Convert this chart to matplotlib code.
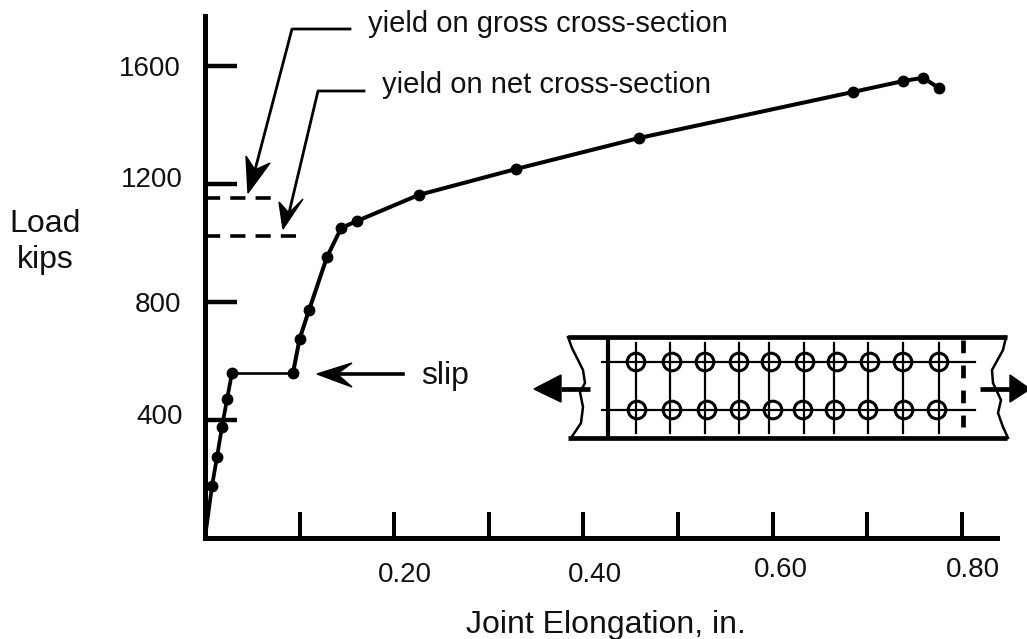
import matplotlib
matplotlib.use('Agg')
import matplotlib.pyplot as plt
from matplotlib.patches import Circle, Polygon

plt.rcParams['font.family'] = ['Liberation Sans', 'DejaVu Sans']

# load curve
elongation = [0, 0.0074, 0.0127, 0.018, 0.0233, 0.0285, 0.093, 0.100, 0.110, 0.129, 0.144, 0.161,
              0.226, 0.329, 0.459, 0.685, 0.738, 0.759, 0.776]
load = [0, 176, 275, 377, 471, 559, 559, 675, 773, 953, 1051, 1075,
        1163, 1251, 1356, 1512, 1549, 1560, 1525]
slip_start = 5
slip_end = 6

x_ticks = [0.1, 0.2, 0.3, 0.4, 0.5, 0.6, 0.7, 0.8]
y_ticks = [400, 800, 1200, 1600]

yield_gross = 1153
yield_net = 1024
yield_gross_end = 0.07
yield_net_end = 0.0962

# tick labels sit off their ticks in the original, so they go in by hand
x_labels = ['0.20', '0.40', '0.60', '0.80']
x_label_pos = [(405, 582), (595, 582), (781, 577), (973, 577)]
y_labels = ['1600', '1200', '800', '400']
y_label_pos = [(181, 76), (183, 187), (181, 312), (183, 424)]

# joint sketch, in picture pixels
hole_x_top = [636, 672, 705, 739, 771, 805, 837, 870, 903, 939]
hole_x_bottom = [637, 672, 707, 740, 773, 803, 835, 868, 904, 937]
bolt_x = [636, 670, 705, 739, 769, 804, 834, 868, 903, 939]
row_y = [362, 410]
left_edge_x = [568, 572, 583, 585, 580, 583, 581, 571]
left_edge_y = [337, 348, 370, 383, 392, 407, 423, 438]
right_edge_x = [1006, 1003, 992, 993, 1001, 998, 1003, 1008]
right_edge_y = [337, 350, 370, 383, 400, 413, 427, 438]

fig = plt.figure(figsize=(10.27, 6.39), dpi=100)

ax = fig.add_axes([205 / 1027, (639 - 538) / 639, (997 - 205) / 1027, (538 - 16) / 639])
ax.set_xlim(0, 792 / 946)
ax.set_ylim(0, 522 / 0.295)
ax.spines['top'].set_visible(False)
ax.spines['right'].set_visible(False)
ax.spines['left'].set_linewidth(3.6)
ax.spines['bottom'].set_linewidth(3.6)
ax.set_xticks(x_ticks)
ax.set_yticks(y_ticks)
ax.tick_params(axis='x', direction='in', length=19, width=2.9, labelbottom=False)
ax.tick_params(axis='y', direction='in', length=23, width=3.2, labelleft=False)

ax.plot(elongation[:slip_start + 1], load[:slip_start + 1], color='black', lw=2.7, clip_on=False)
ax.plot(elongation[slip_start:slip_end + 1], load[slip_start:slip_end + 1], color='black', lw=1.9, clip_on=False)
ax.plot(elongation[slip_end:], load[slip_end:], color='black', lw=2.9, clip_on=False)
ax.plot(elongation[1:], load[1:], 'o', color='black', ms=7.5, clip_on=False)
ax.plot([0, yield_gross_end], [yield_gross, yield_gross], color='black', lw=2.6, dashes=(4.2, 2.8))
ax.plot([0, yield_net_end], [yield_net, yield_net], color='black', lw=2.6, dashes=(4.2, 2.8))

# overlay in pixels for the text, arrows and sketch
over = fig.add_axes([0, 0, 1, 1])
over.set_xlim(0, 1027)
over.set_ylim(639, 0)
over.axis('off')
over.patch.set_alpha(0)

text_color = '#111111'
for s, (px, py) in zip(x_labels, x_label_pos):
    over.text(px, py, s, fontsize=20, ha='center', va='baseline', color=text_color)
for s, (px, py) in zip(y_labels, y_label_pos):
    over.text(px, py, s, fontsize=20, ha='right', va='baseline', color=text_color)
over.text(45, 232, 'Load', fontsize=23, ha='center', va='baseline', color=text_color)
over.text(45, 268, 'kips', fontsize=23, ha='center', va='baseline', color=text_color)
over.text(606, 633, 'Joint Elongation, in.', fontsize=23, ha='center', va='baseline', color=text_color)
over.text(368, 32, 'yield on gross cross-section', fontsize=21, ha='left', va='baseline', color=text_color)
over.text(382, 93, 'yield on net cross-section', fontsize=21, ha='left', va='baseline', color=text_color)
over.text(421, 384, 'slip', fontsize=23, ha='left', va='baseline', color=text_color)

# leader arrows
over.plot([350, 292, 255], [29, 29, 170], color='black', lw=2)
over.add_patch(Polygon([(248, 193), (246, 156), (255, 170), (270, 163)], color='black'))
over.plot([364, 318, 289], [91, 91, 213], color='black', lw=2)
over.add_patch(Polygon([(283, 229), (279, 202), (289, 213), (303, 199)], color='black'))
over.plot([403, 337], [374, 374], color='black', lw=2.6)
over.add_patch(Polygon([(317, 374), (352, 363), (337, 374), (352, 387)], color='black'))

# joint sketch
over.plot([568, 1007], [337, 337], color='black', lw=3.4, solid_capstyle='butt')
over.plot([568, 1007], [438, 438], color='black', lw=3.4, solid_capstyle='butt')
over.plot(left_edge_x, left_edge_y, color='black', lw=1.8)
over.plot(right_edge_x, right_edge_y, color='black', lw=1.8)
over.plot([608, 608], [337, 438], color='black', lw=3, solid_capstyle='butt')
over.plot([963, 963], [340, 427], color='black', lw=3.4, dashes=(2.7, 2.6))
for y in row_y:
    over.plot([602, 975], [y, y], color='black', lw=1.6)
for bx, xt, xb in zip(bolt_x, hole_x_top, hole_x_bottom):
    over.plot([bx, bx], [343, 433], color='black', lw=1.6)
    over.add_patch(Circle((xt, row_y[0]), 8.8, fill=False, ec='black', lw=2.2))
    over.add_patch(Circle((xb, row_y[1]), 8.8, fill=False, ec='black', lw=2.2))

over.plot([561, 590], [389, 389], color='black', lw=3.4, solid_capstyle='butt')
over.add_patch(Polygon([(534, 389), (561, 375), (561, 402)], color='black'))
over.plot([980, 1010], [389, 389], color='black', lw=3.4, solid_capstyle='butt')
over.add_patch(Polygon([(1030, 389), (1010, 375), (1010, 402)], color='black'))

fig.savefig('out.png', dpi=100)
